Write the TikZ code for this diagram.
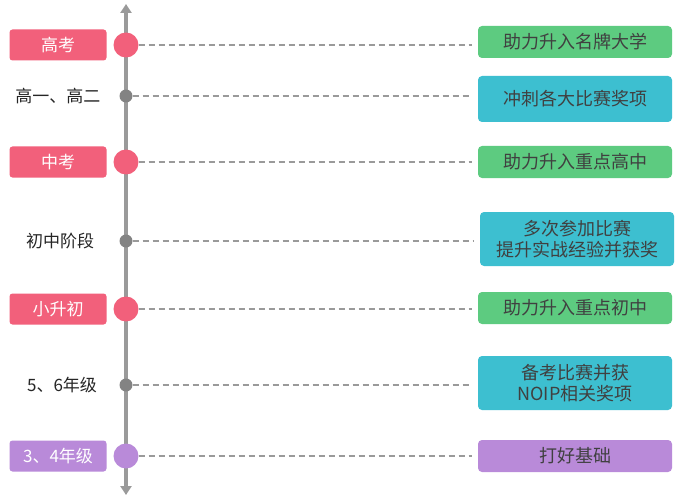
\documentclass[tikz,border=0pt]{standalone}
\usepackage{fontspec}
\setmainfont{Noto Sans CJK SC}
\usetikzlibrary{arrows.meta}
\definecolor{pk}{HTML}{F2607B}
\definecolor{gr}{HTML}{5DCB80}
\definecolor{tl}{HTML}{3DBFD0}
\definecolor{pu}{HTML}{B98AD9}
\definecolor{ax}{HTML}{9A9A9A}
\tikzset{x=1pt,y=-1pt,
 lbl/.style={rounded corners=3pt,minimum width=97pt,minimum height=31pt,text=white,font=\fontsize{17}{19}\selectfont,inner sep=0},
 rb/.style={rounded corners=4pt,minimum width=194pt,inner sep=0,align=center,text=black!75,font=\fontsize{18}{21}\selectfont},
 plain/.style={font=\fontsize{17}{19}\selectfont,text=black!85},
 big/.style={circle,minimum size=25pt,inner sep=0},
 sm/.style={circle,fill=ax!85!black,minimum size=13pt,inner sep=0},
 dl/.style={ax,line width=1.2pt,dash pattern=on 6pt off 4pt}}
\begin{document}
\begin{tikzpicture}
\fill[white] (0,0) rectangle (696,500);
\coordinate (t) at (126,4); \coordinate (b) at (126,495);
\draw[ax,line width=3.5pt,{Triangle[width=11pt,length=9pt]}-{Triangle[width=11pt,length=9pt]}] (t) -- (b);
\node[lbl,fill=pk] (l1) at (58,45) {高考};
\node[big,fill=pk] (c1) at (126,45) {};
\node[rb,fill=gr,minimum height=32pt] (r1) at (575,42) {助力升入名牌大学};
\node[plain] (l2) at (58,96) {高一、高二};
\node[sm] (c2) at (126,96) {};
\node[rb,fill=tl,minimum height=46pt] (r2) at (575,99) {冲刺各大比赛奖项};
\node[lbl,fill=pk] (l3) at (58,162) {中考};
\node[big,fill=pk] (c3) at (126,162) {};
\node[rb,fill=gr,minimum height=32pt] (r3) at (575,162) {助力升入重点高中};
\node[plain] (l4) at (60,241) {初中阶段};
\node[sm] (c4) at (126,241) {};
\node[rb,fill=tl,minimum height=54pt] (r4) at (577,239) {多次参加比赛\\提升实战经验并获奖};
\node[lbl,fill=pk] (l5) at (58,309) {小升初};
\node[big,fill=pk] (c5) at (126,309) {};
\node[rb,fill=gr,minimum height=32pt] (r5) at (575,308) {助力升入重点初中};
\node[plain] (l6) at (62,385) {5、6年级};
\node[sm] (c6) at (126,385) {};
\node[rb,fill=tl,minimum height=54pt] (r6) at (575,383) {备考比赛并获\\NOIP相关奖项};
\node[lbl,fill=pu] (l7) at (58,456) {3、4年级};
\node[big,fill=pu] (c7) at (126,456) {};
\node[rb,fill=pu,minimum height=32pt] (r7) at (575,456) {打好基础};
\foreach \i in {1,...,7}{\draw[dl] (c\i) -- ([xshift=-6pt]r\i.west |- c\i);}
\end{tikzpicture}
\end{document}
